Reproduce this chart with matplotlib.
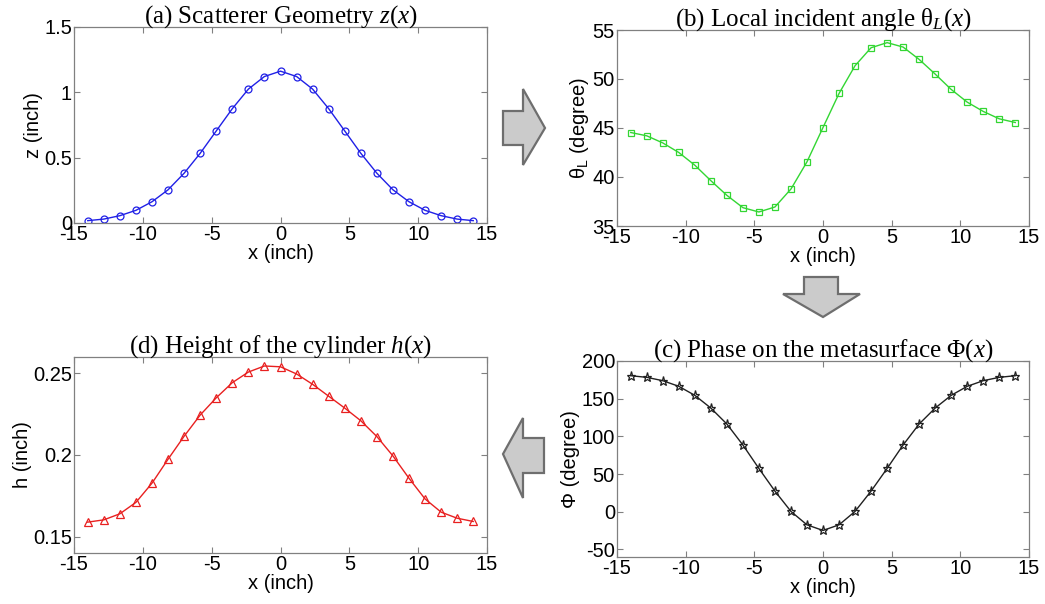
import matplotlib
matplotlib.use('Agg')

import matplotlib.pyplot as plt
from matplotlib.patches import Polygon
from matplotlib.ticker import FuncFormatter

# sample positions along the scatterer (inch)
x_pos = [-14, -12.83, -11.67, -10.5, -9.33, -8.17, -7, -5.83, -4.67, -3.5, -2.33, -1.17, 0,
         1.17, 2.33, 3.5, 4.67, 5.83, 7, 8.17, 9.33, 10.5, 11.67, 12.83, 14]

# (a) scatterer geometry z(x)
z_vals = [0.018, 0.03, 0.056, 0.097, 0.163, 0.254, 0.381, 0.534, 0.704, 0.875, 1.025, 1.121, 1.162,
          1.121, 1.025, 0.875, 0.704, 0.534, 0.381, 0.254, 0.163, 0.097, 0.056, 0.03, 0.018]

# (b) local incident angle (degree)
theta_vals = [44.54, 44.2, 43.48, 42.5, 41.2, 39.63, 38.13, 36.87, 36.43, 36.94, 38.78, 41.54, 45.05,
              48.53, 51.35, 53.19, 53.71, 53.26, 52.0, 50.5, 48.94, 47.64, 46.69, 45.94, 45.56]

# (c) phase on the metasurface (degree)
phi_vals = [180.5, 178.3, 173.9, 166.4, 154.4, 137.6, 116.4, 88.5, 57.5, 27.4, 0.4, -17.3, -24.8,
            -17.3, 0.4, 27.4, 57.5, 88.5, 116.4, 137.6, 154.4, 166.4, 173.9, 178.3, 180.5]

# (d) cylinder height (inch)
h_vals = [0.1589, 0.1603, 0.164, 0.171, 0.1828, 0.1974, 0.2115, 0.2245, 0.235, 0.2443, 0.2508, 0.2545, 0.254,
          0.2496, 0.2433, 0.236, 0.2287, 0.221, 0.2113, 0.1994, 0.1858, 0.1731, 0.165, 0.1613, 0.1593]

x_ticks = [-15, -10, -5, 0, 5, 10, 15]

plt.rcParams['font.family'] = ['Liberation Sans', 'DejaVu Sans']
plt.rcParams['mathtext.fontset'] = 'custom'
plt.rcParams['mathtext.rm'] = 'Liberation Serif'
plt.rcParams['mathtext.it'] = 'Liberation Serif:italic'
plt.rcParams['mathtext.sf'] = 'Liberation Sans'
plt.rcParams['axes.unicode_minus'] = False

W, H = 1045, 604
fig = plt.figure(figsize=(W / 100, H / 100), dpi=100)

def px_axes(left, top, right, bottom):
    return fig.add_axes([left / W, 1 - bottom / H, (right - left) / W, (bottom - top) / H])

def style(ax, ylim, yticks, ylabel, title):
    ax.set_xlim(-15, 15)
    ax.set_xticks(x_ticks)
    ax.set_ylim(*ylim)
    ax.set_yticks(yticks)
    ax.yaxis.set_major_formatter(FuncFormatter(lambda v, p: '%g' % v))
    ax.tick_params(direction='in', top=True, right=True, length=4, width=0.8,
                   color='#808080', labelsize=14.5, pad=1.5)
    for s in ax.spines.values():
        s.set_color('#808080')
        s.set_linewidth(0.9)
    ax.set_xlabel('x (inch)', fontsize=14.5, labelpad=0)
    ax.set_ylabel(ylabel, fontsize=14.5, labelpad=1)
    ax.set_title(title, fontsize=18, family='Liberation Serif', pad=3)

ax_a = px_axes(74, 27, 487, 223)
ax_a.plot(x_pos, z_vals, color='#2020e6', lw=1, marker='o', ms=5, mfc='none', mew=0.9)
style(ax_a, (0, 1.5), [0, 0.5, 1, 1.5], 'z (inch)', r'(a) Scatterer Geometry $z(x)$')

ax_b = px_axes(617, 30, 1029, 226)
ax_b.plot(x_pos, theta_vals, color='#33d633', lw=1, marker='s', ms=5, mfc='none', mew=0.9)
style(ax_b, (35, 55), [35, 40, 45, 50, 55], r'θ$_\mathsf{L}$ (degree)',
      r'(b) Local incident angle θ$_L(x)$')

ax_c = px_axes(617, 361, 1029, 557)
ax_c.plot(x_pos, phi_vals, color='#202020', lw=1, marker='*', ms=6.5, mfc='none', mew=0.9)
style(ax_c, (-60, 200), [-50, 0, 50, 100, 150, 200], 'Φ (degree)',
      r'(c) Phase on the metasurface Φ$(x)$')

ax_d = px_axes(74, 357, 487, 553)
ax_d.plot(x_pos, h_vals, color='#e82020', lw=1, marker='^', ms=5.5, mfc='none', mew=0.9)
style(ax_d, (0.14, 0.26), [0.15, 0.2, 0.25], 'h (inch)', r'(d) Height of the cylinder $h(x)$')

# block arrows between panels (pixel outlines)
arrows = [
    [(503, 111), (523, 111), (523, 89), (545, 128), (523, 165), (523, 145), (503, 145)],
    [(804, 277), (838, 277), (838, 294), (860, 294), (823, 317), (783, 294), (804, 294)],
    [(544, 438), (523, 438), (523, 418), (503, 454), (523, 498), (523, 473), (544, 473)],
]
for pts in arrows:
    poly = Polygon([(px / W, 1 - py / H) for px, py in pts], closed=True,
                   transform=fig.transFigure, facecolor='#cbcbcb', edgecolor='#6e6e6e', lw=1.6)
    fig.patches.append(poly)

fig.savefig('out.png', dpi=100)
